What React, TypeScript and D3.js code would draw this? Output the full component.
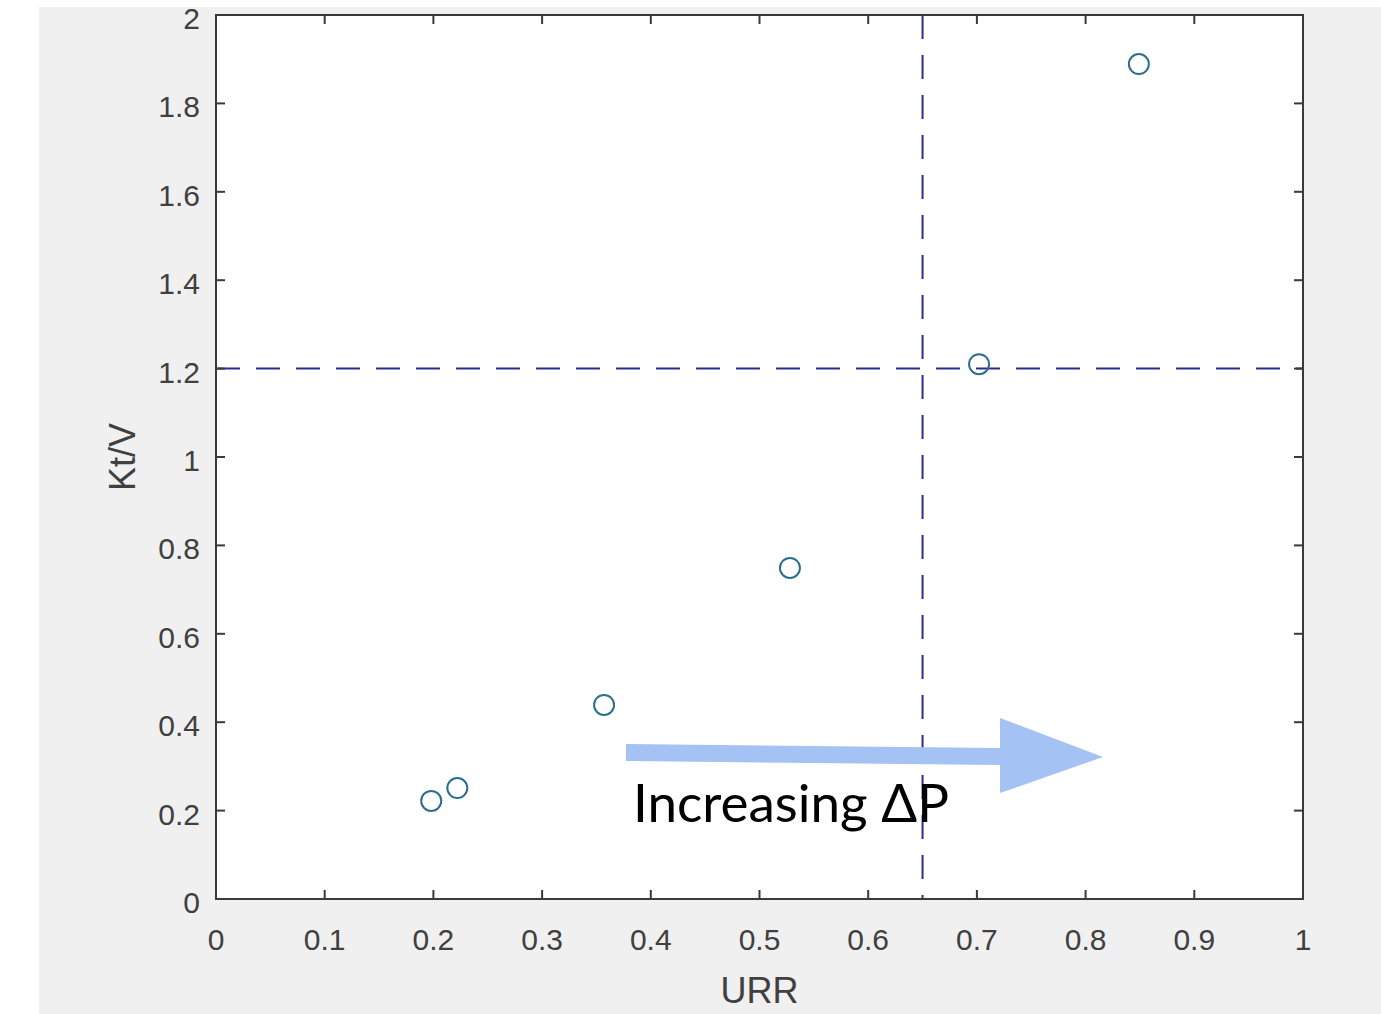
import React from 'react';
import * as d3 from 'd3';

// URR vs Kt/V measurements
const urr = [0.198, 0.222, 0.357, 0.528, 0.702, 0.849];
const ktv = [0.222, 0.251, 0.439, 0.749, 1.21, 1.889];

const xTicks = [0, 0.1, 0.2, 0.3, 0.4, 0.5, 0.6, 0.7, 0.8, 0.9, 1];
const yTicks = [0, 0.2, 0.4, 0.6, 0.8, 1, 1.2, 1.4, 1.6, 1.8, 2];

// threshold lines
const urrLimit = 0.65;
const ktvLimit = 1.2;

const W = 1381;
const H = 1014;
const margin = { top: 15, right: 78, bottom: 115, left: 216 };
const axisColor = '#3a3a3a';
const labelColor = '#404040';
const font = '"Liberation Sans", Arial, sans-serif';

export default function App() {
    const x = d3.scaleLinear().domain([0, 1]).range([margin.left, W - margin.right]);
    const y = d3.scaleLinear().domain([0, 2]).range([H - margin.bottom, margin.top]);

    const x0 = x(0), x1 = x(1), y0 = y(0), y1 = y(2);
    const tick = 9;
    const fmt = (d: number) => String(d);

    const points = urr.map((u, i) => ({ u, k: ktv[i] }));

    // arrow shape (annotation)
    const arrow = d3.line()([
        [626, 744], [1000, 748], [1000, 718], [1103, 757], [1000, 793], [1000, 765], [626, 761]
    ]);

    return (
        <div style={{ position: 'absolute', left: 0, top: 0 }}>
            <svg width={W} height={H} style={{ display: 'block' }}>
                <rect x={0} y={0} width={W} height={H} fill="#fff" />
                <rect x={39} y={7} width={W - 39} height={H - 7} fill="#f0f0f0" />
                <rect x={x0} y={y1} width={x1 - x0} height={y0 - y1} fill="#fff" />

                {/* threshold lines */}
                <line x1={x(urrLimit)} x2={x(urrLimit)} y1={y1} y2={y0}
                    stroke="#2b2b95" strokeWidth={2} strokeDasharray="24 16" />
                <line x1={x0} x2={x1} y1={y(ktvLimit)} y2={y(ktvLimit)}
                    stroke="#2b2b95" strokeWidth={2} strokeDasharray="24 16" />

                {/* points */}
                {points.map((p, i) => (
                    <circle key={i} cx={x(p.u)} cy={y(p.k)} r={10}
                        fill="none" stroke="#2c6f8c" strokeWidth={2} />
                ))}

                {/* box + ticks */}
                <rect x={x0} y={y1} width={x1 - x0} height={y0 - y1}
                    fill="none" stroke={axisColor} strokeWidth={2} />
                {xTicks.map(t => (
                    <g key={'x' + t}>
                        <line x1={x(t)} x2={x(t)} y1={y0} y2={y0 - tick} stroke={axisColor} strokeWidth={2} />
                        <line x1={x(t)} x2={x(t)} y1={y1} y2={y1 + tick} stroke={axisColor} strokeWidth={2} />
                        <text x={x(t)} y={y0 + 51} textAnchor="middle" fontFamily={font}
                            fontSize={30} fill={labelColor}>{fmt(t)}</text>
                    </g>
                ))}
                {yTicks.map(t => (
                    <g key={'y' + t}>
                        <line x1={x0} x2={x0 + tick} y1={y(t)} y2={y(t)} stroke={axisColor} strokeWidth={2} />
                        <line x1={x1} x2={x1 - tick} y1={y(t)} y2={y(t)} stroke={axisColor} strokeWidth={2} />
                        <text x={x0 - 16} y={y(t) + 14} textAnchor="end" fontFamily={font}
                            fontSize={30} fill={labelColor}>{fmt(t)}</text>
                    </g>
                ))}

                <text x={(x0 + x1) / 2} y={1003} textAnchor="middle" fontFamily={font}
                    fontSize={36} fill={labelColor}>URR</text>
                <text transform={`translate(135, ${(y0 + y1) / 2}) rotate(-90)`} textAnchor="middle"
                    fontFamily={font} fontSize={36} fill={labelColor}>Kt/V</text>

                {/* annotation */}
                <path d={arrow ?? ''} fill="#a4c2f4" />
                <text x={633} y={822} fontFamily="Lato, 'Open Sans', sans-serif" fontSize={53}
                    fill="#000">Increasing ΔP</text>
            </svg>
        </div>
    );
}
